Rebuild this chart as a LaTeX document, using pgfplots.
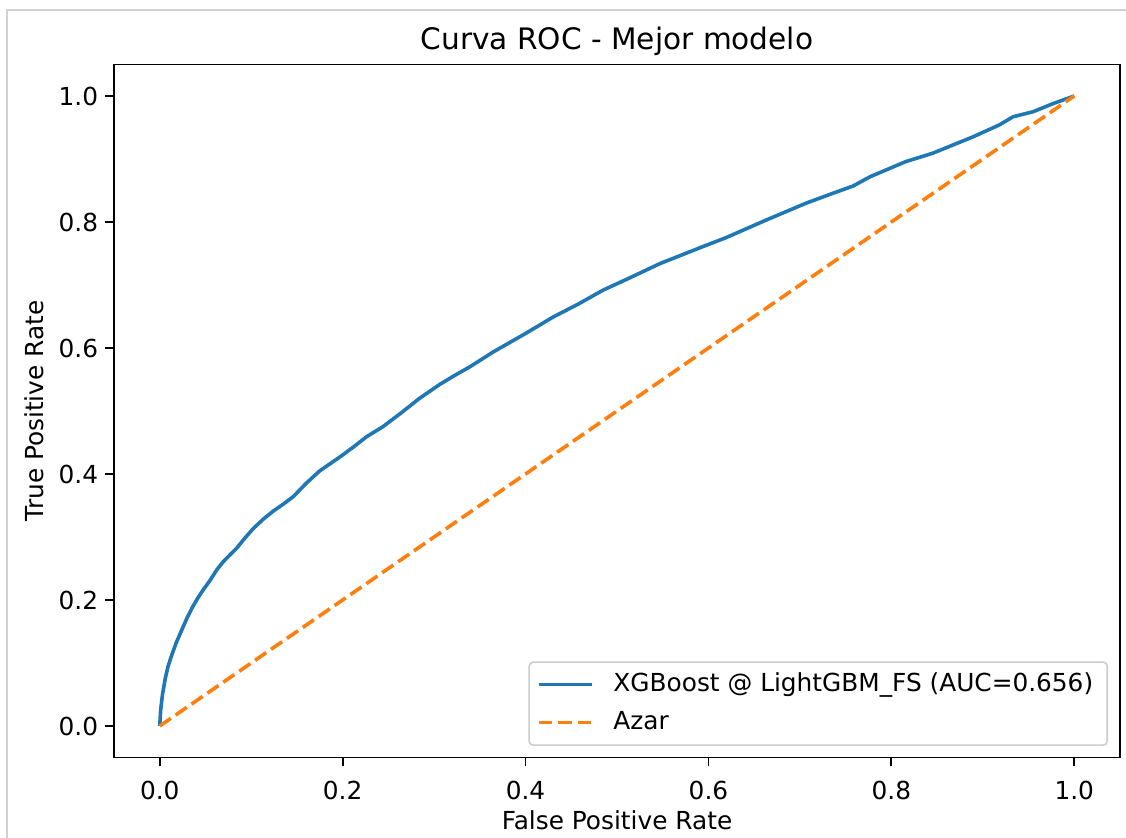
\documentclass[border=0pt]{standalone}
\usepackage{fontspec}
\setmainfont{DejaVu Sans}
\usepackage{pgfplots}
\pgfplotsset{compat=1.18}

\definecolor{mplblue}{HTML}{1F77B4}
\definecolor{mplorange}{HTML}{FF7F0E}

\begin{document}
\begin{tikzpicture}
% page size: 1 px of the reference = 0.5pt, origin at the lower left corner of the axis box
\path[use as bounding box] (-57pt,-40.25pt) rectangle (506pt,378.75pt);
\draw[line width=1pt, color=black!18] (-53.5pt,-41pt) -- (-53.5pt,373.5pt) -- (507pt,373.5pt);

\begin{axis}[
  scale only axis, width=503pt, height=346.5pt,
  xmin=-0.05, xmax=1.05, ymin=-0.05, ymax=1.05,
  xtick={0,0.2,0.4,0.6,0.8,1}, ytick={0,0.2,0.4,0.6,0.8,1},
  minor tick num=0, tick pos=left, tick align=outside,
  major tick length=4.5pt,
  axis line style={line width=0.95pt}, every tick/.style={line width=0.95pt, black},
  /pgf/number format/.cd, fixed, fixed zerofill, precision=1, assume math mode=true, /pgfplots/.cd,
  ticklabel style={font=\fontsize{12.4}{14}\selectfont},
  xticklabel style={anchor=north, inner sep=0pt, yshift=-7.25pt},
  yticklabel style={anchor=east, inner sep=0pt, xshift=-3.25pt},
  xlabel={False Positive Rate}, ylabel={True Positive Rate},
  label style={font=\fontsize{12.4}{14}\selectfont},
  xlabel style={at={(axis description cs:0.5,-0.0902)}, anchor=center},
  ylabel style={at={(axis description cs:-0.079,0.5)}, anchor=center},
  title={Curva ROC - Mejor modelo},
  title style={font=\fontsize{14.8}{17}\selectfont, at={(axis description cs:0.5,1)}, anchor=base, yshift=1.5pt},
  legend cell align=left,
  legend image code/.code={\draw[#1] (0pt,0pt) -- (26.75pt,0pt);},
  legend style={at={(axis description cs:1,0)}, anchor=south east, xshift=-6pt, yshift=5.75pt,
    draw=black!20, fill=white, rounded corners=2pt, line width=0.8pt,
    inner xsep=4pt, inner ysep=5.5pt, row sep=7.5pt, column sep=9.6pt,
    nodes={inner sep=0pt, text height=9pt, text depth=2.5pt},
    font=\fontsize{12.4}{14}\selectfont},
]
\addplot[mplblue, line width=1.8pt, line join=round] coordinates {
(0,0) (0.001,0.025) (0.003,0.05) (0.006,0.075) (0.009,0.094) (0.013,0.112) (0.018,0.132)
(0.024,0.152) (0.030,0.172) (0.036,0.189) (0.042,0.204) (0.048,0.217) (0.055,0.231)
(0.062,0.247) (0.069,0.260) (0.077,0.272) (0.084,0.282) (0.093,0.298)
(0.102,0.313) (0.113,0.328) (0.124,0.341) (0.135,0.352) (0.146,0.364) (0.160,0.385)
(0.175,0.405) (0.197,0.427) (0.212,0.443) (0.226,0.459)
(0.244,0.475) (0.264,0.497) (0.284,0.520) (0.306,0.542) (0.322,0.556) (0.339,0.570) (0.365,0.594)
(0.400,0.623) (0.430,0.649) (0.458,0.670) (0.485,0.692) (0.515,0.712) (0.547,0.734) (0.594,0.761)
(0.619,0.775) (0.663,0.803) (0.707,0.830) (0.735,0.845) (0.758,0.857) (0.777,0.872) (0.816,0.896)
(0.845,0.909) (0.889,0.935) (0.918,0.954) (0.933,0.967) (0.955,0.975) (0.977,0.988) (1,1)
};
\addlegendentry{XGBoost @ LightGBM\_FS (AUC=0.656)\hspace*{3pt}}
\addplot[mplorange, line width=1.8pt, dash pattern=on 6.75pt off 2.9pt] coordinates {(0,0) (1,1)};
\addlegendentry{Azar}
\end{axis}
\end{tikzpicture}
\end{document}
